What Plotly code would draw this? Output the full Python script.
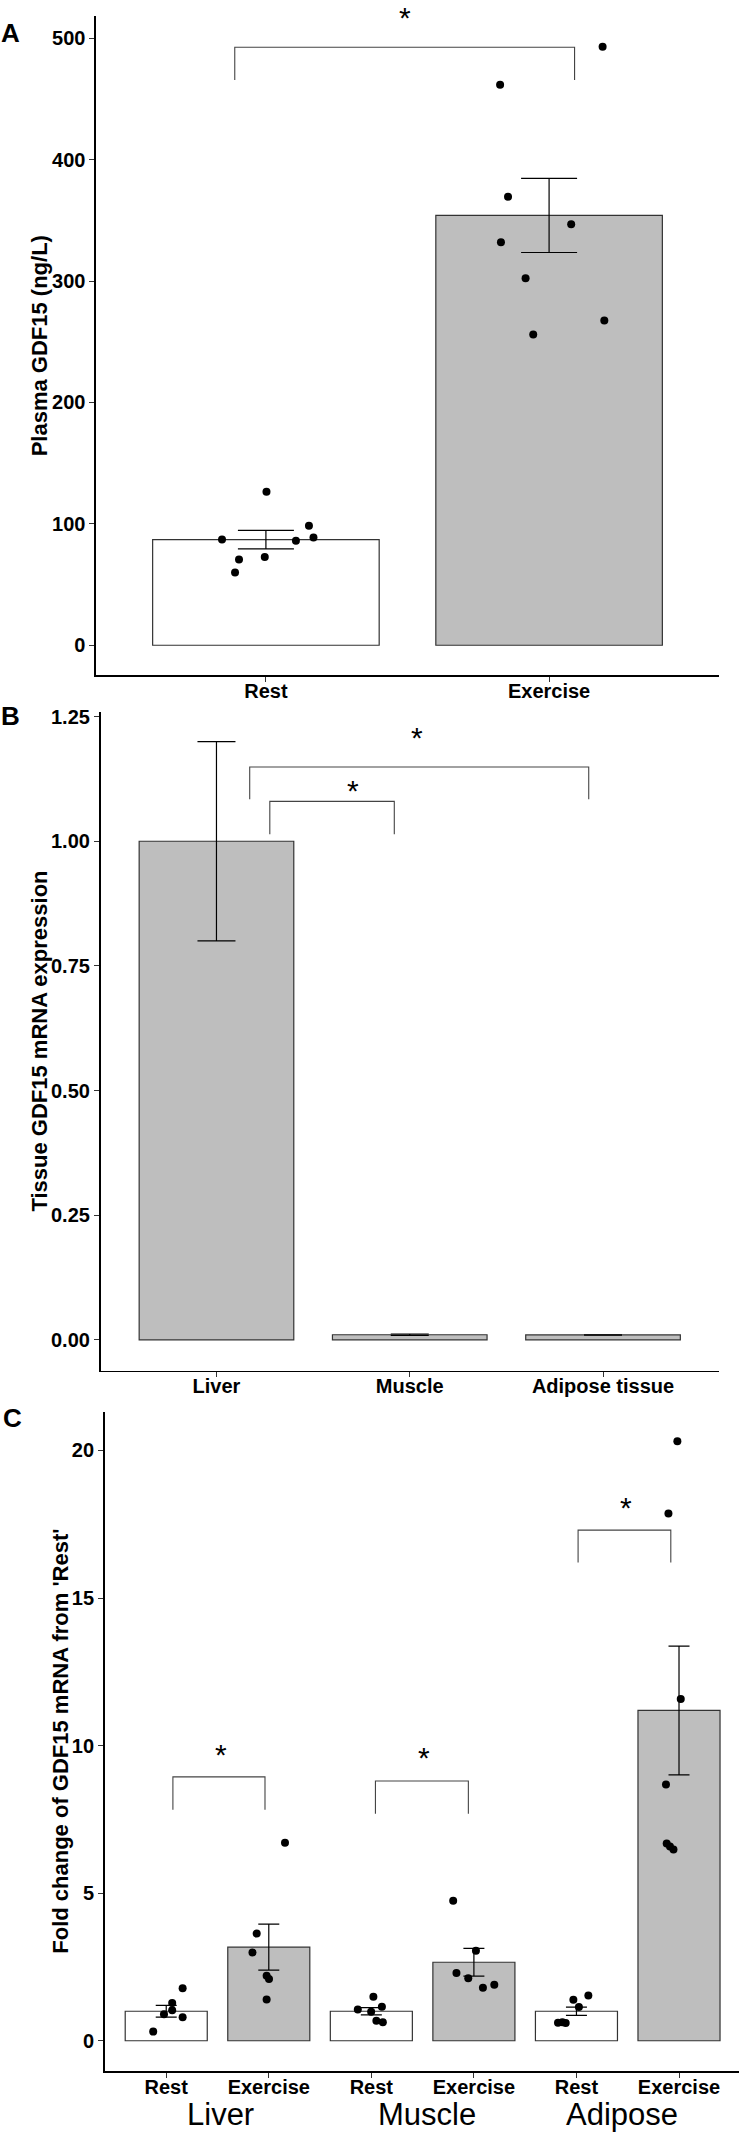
import plotly.graph_objects as go

# ---------------- data ----------------
# Panel A
A_groups = ["Rest", "Exercise"]
A_means = [87.0, 354.0]
A_se = [7.6, 30.5]
A_rest_pts = [126.4, 87.0, 98.5, 86.0, 88.8, 70.6, 72.7, 60.0]
A_rest_jit = [0.002, -0.155, 0.152, 0.106, 0.168, -0.095, -0.004, -0.109]
A_ex_pts = [461.7, 493.0, 369.5, 346.8, 332.0, 302.3, 267.5, 256.0]
A_ex_jit = [-0.173, 0.189, -0.145, 0.078, -0.170, -0.083, 0.195, -0.056]
A_brackets = [(0.89, 2.09, 465.5, 492.6)]
A_stars = [(1.49, 519.0)]
A_yticks = [0, 100, 200, 300, 400, 500]

# Panel B
B_groups = ["Liver", "Muscle", "Adipose tissue"]
B_means = [1.0, 0.0102, 0.0098]
B_se = [0.2, 0.0015, 0.0004]
B_brackets = [(1.276, 1.92, 1.0138, 1.08), (1.172, 2.926, 1.084, 1.149)]
B_stars = [(1.708, 1.105), (2.037, 1.212)]
B_yticks = [0.0, 0.25, 0.5, 0.75, 1.0, 1.25]

# Panel C
C_conditions = ["Rest", "Exercise", "Rest", "Exercise", "Rest", "Exercise"]
C_tissues = ["Liver", "Muscle", "Adipose"]
C_tissue_pos = [1.53, 3.54, 5.44]
C_means = [1.0, 3.17, 1.0, 2.66, 1.0, 11.19]
C_se = [0.2, 0.78, 0.12, 0.47, 0.14, 2.18]
C_pts = [
    [1.78, 1.28, 1.03, 0.90, 0.80, 0.31],
    [6.71, 3.63, 2.99, 2.20, 2.09, 1.40],
    [1.06, 1.49, 0.98, 1.15, 0.68, 0.63],
    [4.74, 3.05, 2.30, 2.12, 1.80, 1.90],
    [1.39, 1.53, 1.14, 0.61, 0.63, 0.60],
    [20.31, 17.86, 11.58, 8.68, 6.68, 6.58, 6.48],
]
C_jit = [
    [0.16, 0.058, 0.058, -0.022, 0.16, -0.127],
    [0.158, -0.118, -0.159, -0.021, 0.002, -0.021],
    [-0.132, 0.02, -0.002, 0.103, 0.049, 0.112],
    [-0.202, 0.02, -0.17, -0.055, 0.088, 0.199],
    [-0.03, 0.116, 0.024, -0.18, -0.137, -0.105],
    [-0.016, -0.103, 0.017, -0.127, -0.12, -0.088, -0.054],
]
C_brackets = [(1.065, 1.963, 7.83, 8.94), (3.04, 3.946, 7.69, 8.8), (5.016, 5.92, 16.2, 17.3)]
C_stars = [(1.53, 9.77), (3.51, 9.65), (5.48, 18.15)]
C_yticks = [0, 5, 10, 15, 20]

# ---------------- styling / layout ----------------
W, H = 739, 2133
GREY = "#BEBEBE"
EDGE = "#333333"
FONT = "Liberation Sans, Arial, sans-serif"


def px_x(p):
    return p / W


def px_y(p):
    return 1 - p / H


A_dom_y = [px_y(671), px_y(10.5)]
A_rng_y = [-24.6, 517.9]
B_dom_y = [px_y(1368.6), px_y(707.6)]
B_rng_y = [-0.062, 1.26]
C_dom_y = [px_y(2071), px_y(1410.3)]
C_rng_y = [-1.03, 21.29]


def to_paper(v, rng, dom):
    return dom[0] + (v - rng[0]) / (rng[1] - rng[0]) * (dom[1] - dom[0])


fig = go.Figure()


def add_bars(xa, ya, xs, means, ses, colors, capw):
    fig.add_trace(go.Bar(
        x=xs, y=means, width=0.8, xaxis=xa, yaxis=ya,
        marker=dict(color=colors, line=dict(color=EDGE, width=1.2)),
        error_y=dict(type="data", array=ses, visible=True, color="black",
                     thickness=1.2, width=capw),
        showlegend=False, hoverinfo="skip",
    ))


def add_points(xa, ya, center, vals, jit):
    fig.add_trace(go.Scatter(
        x=[center + j for j in jit], y=vals, mode="markers", xaxis=xa, yaxis=ya,
        marker=dict(color="black", size=8), showlegend=False, cliponaxis=False,
        hoverinfo="skip",
    ))


def add_bracket(xa, ya, b):
    x1, x2, yb, yt = b
    fig.add_trace(go.Scatter(
        x=[x1, x1, x2, x2], y=[yb, yt, yt, yb], mode="lines", xaxis=xa, yaxis=ya,
        line=dict(color="#444444", width=1.1), showlegend=False, cliponaxis=False,
        hoverinfo="skip",
    ))


annotations = []


def add_star(xa, s, rng, dom):
    annotations.append(dict(
        x=s[0], y=to_paper(s[1], rng, dom), xref=xa, yref="paper", text="*",
        showarrow=False, font=dict(family=FONT, size=30, color="black"),
        xanchor="center", yanchor="middle", yshift=-2,
    ))


# Panel A
add_bars("x", "y", [1, 2], A_means, A_se, ["white", GREY], 28)
add_points("x", "y", 1, A_rest_pts, A_rest_jit)
add_points("x", "y", 2, A_ex_pts, A_ex_jit)
for b in A_brackets:
    add_bracket("x", "y", b)
for s in A_stars:
    add_star("x", s, A_rng_y, A_dom_y)

# Panel B
add_bars("x2", "y2", [1, 2, 3], B_means, B_se, [GREY] * 3, 19)
for b in B_brackets:
    add_bracket("x2", "y2", b)
for s in B_stars:
    add_star("x2", s, B_rng_y, B_dom_y)

# Panel C
C_x = list(range(1, len(C_conditions) + 1))
C_colors = ["white" if c == "Rest" else GREY for c in C_conditions]
add_bars("x3", "y3", C_x, C_means, C_se, C_colors, 10.5)
for i, (vals, jit) in enumerate(zip(C_pts, C_jit)):
    add_points("x3", "y3", C_x[i], vals, jit)
for b in C_brackets:
    add_bracket("x3", "y3", b)
for s in C_stars:
    add_star("x3", s, C_rng_y, C_dom_y)

tickfont = dict(family=FONT, size=20, color="black", weight="bold")
axis_common = dict(showline=True, linecolor="black", linewidth=1.6, ticks="outside",
                   ticklen=5, tickwidth=1, tickcolor="#333333", showgrid=False,
                   zeroline=False, tickfont=tickfont, fixedrange=True)
xaxis_extra = dict(ticklabelstandoff=-8)

fig.update_layout(
    width=W, height=H, margin=dict(l=0, r=0, t=0, b=0),
    paper_bgcolor="white", plot_bgcolor="white", bargap=0,
    xaxis=dict(axis_common, **xaxis_extra, domain=[px_x(96), px_x(719)], range=[0.4, 2.6],
               tickvals=[1, 2], ticktext=A_groups, anchor="y"),
    yaxis=dict(axis_common, domain=A_dom_y, range=A_rng_y,
               tickvals=A_yticks, anchor="x"),
    xaxis2=dict(axis_common, **xaxis_extra, domain=[px_x(100.5), px_x(719)], range=[0.4, 3.6],
                tickvals=[1, 2, 3], ticktext=B_groups, anchor="y2"),
    yaxis2=dict(axis_common, domain=B_dom_y, range=B_rng_y,
                tickvals=B_yticks, tickformat=".2f", anchor="x2"),
    xaxis3=dict(axis_common, **xaxis_extra, domain=[px_x(104.7), 1.0], range=[0.4, 6.585],
                tickvals=C_x, ticktext=C_conditions, anchor="y3"),
    yaxis3=dict(axis_common, domain=C_dom_y, range=C_rng_y,
                tickvals=C_yticks, anchor="x3"),
)

# axis titles
titles = [
    ("Plasma GDF15 (ng/L)", 39.5, 340.8),
    ("Tissue GDF15 mRNA expression", 39.5, 1038),
    ("Fold change of GDF15 mRNA from 'Rest'", 61, 1740.6),
]
for t, xx, yy in titles:
    annotations.append(dict(
        x=px_x(xx), y=px_y(yy), xref="paper", yref="paper", text=t, showarrow=False,
        textangle=-90, font=dict(family=FONT, size=22, color="black", weight="bold"),
        xanchor="center", yanchor="middle",
    ))

# panel letters
for letter, xx, yy in [("A", 10, 27.5), ("B", 10, 712), ("C", 12, 1416)]:
    annotations.append(dict(
        x=px_x(xx), y=px_y(yy), xref="paper", yref="paper", text=letter, showarrow=False,
        font=dict(family=FONT, size=26, color="black", weight="bold"),
        xanchor="center", yanchor="middle",
    ))

# tissue group labels for panel C
for name, pos in zip(C_tissues, C_tissue_pos):
    annotations.append(dict(
        x=pos, y=px_y(2114), xref="x3", yref="paper", text=name, showarrow=False,
        font=dict(family=FONT, size=31, color="black"),
        xanchor="center", yanchor="middle",
    ))

fig.update_layout(annotations=annotations)
fig.write_html(
    "out.html",
    config={"displayModeBar": False, "staticPlot": True},
    post_script="document.body.style.margin='0px';document.body.style.overflow='hidden';",
)
